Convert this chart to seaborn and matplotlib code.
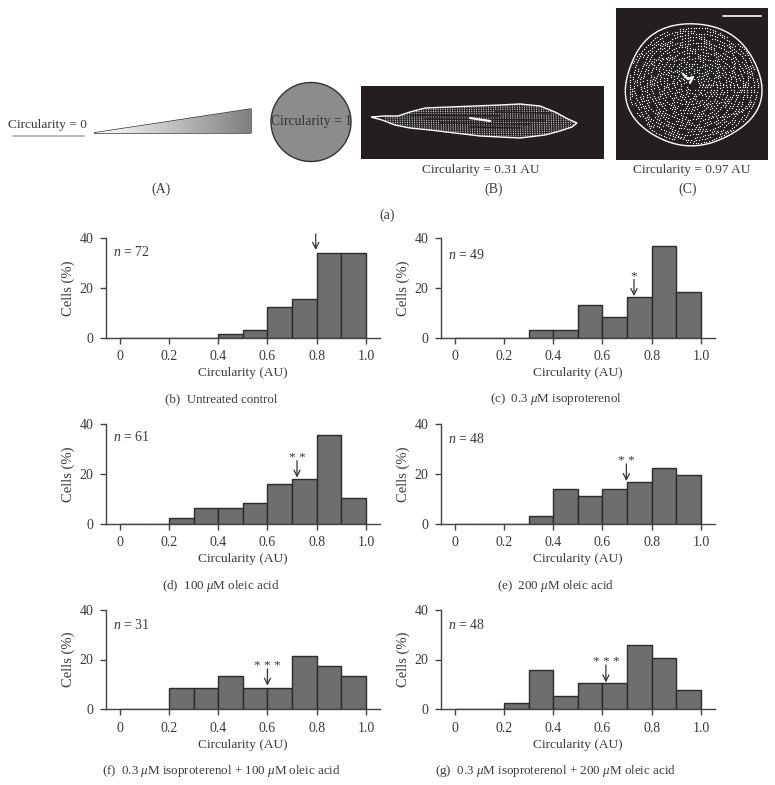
import numpy as np
import pandas as pd
import matplotlib
matplotlib.use("Agg")
import matplotlib.pyplot as plt
from matplotlib.patches import Ellipse, Polygon
import seaborn as sns

W, H = 775, 785

# Bin edges and panel values (% of cells per 0.1 circularity bin)
bin_edges = [0, 0.1, 0.2, 0.3, 0.4, 0.5, 0.6, 0.7, 0.8, 0.9, 1.0]
bin_left = [0, 0.1, 0.2, 0.3, 0.4, 0.5, 0.6, 0.7, 0.8, 0.9]
vals_b = [0, 0, 0, 0, 1.4, 2.9, 12.3, 15.4, 34, 34]
vals_c = [0, 0, 0, 2.9, 2.9, 13.3, 8.2, 16.2, 36.7, 18.4]
vals_d = [0, 0, 2.4, 6.2, 6.2, 8.2, 15.8, 18, 35.4, 10.2]
vals_e = [0, 0, 0, 2.9, 14, 11, 13.9, 16.7, 22.4, 19.4]
vals_f = [0, 0, 8.7, 8.7, 13.2, 8.7, 8.7, 21.6, 17.3, 13.2]
vals_g = [0, 0, 2.7, 15.6, 5.2, 10.4, 10.4, 26, 20.8, 7.8]

n_cells = [72, 49, 61, 48, 31, 48]
arrow_x = [0.796, 0.728, 0.72, 0.697, 0.6, 0.614]
arrow_tip = [35.2, 16.7, 18.5, 17.1, 9.5, 10.8]
arrow_top = [41.6, 23.4, 25.3, 24, 16.3, 17.8]
stars = ["", "*", "* *", "* *", "* * *", "* * *"]
captions = ["(b)  Untreated control",
            r"(c)  0.3 $\mu$M isoproterenol",
            r"(d)  100 $\mu$M oleic acid",
            r"(e)  200 $\mu$M oleic acid",
            r"(f)  0.3 $\mu$M isoproterenol + 100 $\mu$M oleic acid",
            r"(g)  0.3 $\mu$M isoproterenol + 200 $\mu$M oleic acid"]
all_vals = [vals_b, vals_c, vals_d, vals_e, vals_f, vals_g]

# Panel frames in pixels: left, right, y of 40, y of 0
frames = [(106, 380, 238, 337.7), (441, 715, 238, 337.7),
          (106, 380, 424, 523.7), (441, 715, 424, 523.7),
          (106, 380, 609.7, 709.3), (441, 715, 609.7, 709.3)]
n_y = [252, 255, 437, 439, 625, 625]
caption_y = [399, 399, 586, 586, 771, 771]

sns.set_style("ticks")
plt.rcParams['font.family'] = ['Liberation Serif', 'DejaVu Serif']
plt.rcParams['mathtext.fontset'] = 'custom'
plt.rcParams['mathtext.rm'] = 'Liberation Serif'
plt.rcParams['mathtext.it'] = 'Liberation Serif:italic'

ink = "#3a3a3a"
fig = plt.figure(figsize=(W / 100, H / 100), dpi=100)

# Full figure layer in pixel coordinates for schematic part and captions
top = fig.add_axes([0, 0, 1, 1])
top.set_xlim(0, W)
top.set_ylim(H, 0)
top.axis("off")

# (A) line, wedge and disc
top.text(47, 125, "Circularity = 0", ha="center", va="center", fontsize=9.6, color=ink)
top.plot([13, 84], [136, 136], color="#b8b8b8", lw=1.4)
wedge = Polygon([(94, 133), (251, 109), (251, 133)], closed=True, fc="none", ec="#333333", lw=1)
top.add_patch(wedge)
grad = top.imshow(np.linspace(1, 0.5, 200).reshape(1, -1), cmap="gray", vmin=0, vmax=1,
                  extent=(94, 251, 133, 109), aspect="auto", zorder=1)
grad.set_clip_path(wedge)
top.set_xlim(0, W)
top.set_ylim(H, 0)
top.add_patch(Ellipse((311, 122), 80, 79, fc="#8c8c8c", ec="#333333", lw=1))
top.text(311, 122, "Circularity = 1", ha="center", va="center", fontsize=9.8, color="#333333")

# (B) elongated cell
top.fill_between([361, 604], 86, 159, color="#231f20", lw=0)
outline_b = [(371, 117), (385, 116), (398, 116), (410, 112), (425, 108), (450, 107), (475, 106),
             (500, 105), (520, 104), (540, 106), (555, 112), (568, 119), (577, 123), (572, 127),
             (560, 131), (545, 135), (520, 138), (500, 137), (480, 136), (455, 133), (430, 130),
             (410, 128), (395, 125), (382, 120)]
cell_b = Polygon(outline_b, closed=True, fc="none", ec="white", lw=1)
top.add_patch(cell_b)
for x in np.arange(385, 575, 2.4):
    ln = top.plot([x, x + 1.5], [100, 142], color="white", lw=0.6, ls=(0, (1.2, 1)))[0]
    ln.set_clip_path(cell_b)
for y, x0, x1 in [(115, 410, 500), (119, 425, 545), (123, 440, 530), (127, 470, 520), (112, 495, 550)]:
    top.plot([x0, x1], [y, y + 1], color="#231f20", lw=1.1)
top.plot([470, 490], [118, 121], color="white", lw=1.6)

# (C) round cell, speckle on a polar grid with a wavy outline
top.fill_between([616, 768], 8, 160, color="#231f20", lw=0)
ang = np.linspace(0, 2 * np.pi, 240)
wave = 1 + 0.018 * np.sin(3 * ang + 0.6) + 0.012 * np.sin(5 * ang)
top.plot(693 + 68 * wave * np.cos(ang), 85 + 61 * wave * np.sin(ang), color="white", lw=1.0)
rings = np.arange(0.1, 0.97, 0.042)
for j, r in enumerate(rings):
    t = np.arange(0, 2 * np.pi, 2.6 / (65 * r))
    keep = np.sin(7 * t + 3.1 * j) + 0.7 * np.sin(19 * t + 1.7 * j) > -0.75
    rr = r + 0.012 * np.sin(9 * t + j)
    top.scatter(693 + 68 * rr[keep] * np.cos(t[keep]), 85 + 61 * rr[keep] * np.sin(t[keep]),
                s=0.9, color="white", lw=0)
top.plot([683, 688, 693, 690], [74, 79, 77, 83], color="white", lw=1.6)
top.plot([723, 761], [16, 16], color="white", lw=1.2)

top.text(481, 170, "Circularity = 0.31 AU", ha="center", va="center", fontsize=9.6, color=ink)
top.text(692, 170, "Circularity = 0.97 AU", ha="center", va="center", fontsize=9.6, color=ink)
top.text(161, 189, "(A)", ha="center", va="center", fontsize=10, color=ink)
top.text(494, 189, "(B)", ha="center", va="center", fontsize=10, color=ink)
top.text(688, 189, "(C)", ha="center", va="center", fontsize=10, color=ink)
top.text(387, 215, "(a)", ha="center", va="center", fontsize=10, color=ink)

# Histogram panels
for i, (left, right, y40, y0) in enumerate(frames):
    ax = fig.add_axes([left / W, 1 - y0 / H, (right - left) / W, (y0 - y40) / H])
    df = pd.DataFrame({"circ": bin_left, "pct": all_vals[i]})
    sns.histplot(data=df, x="circ", weights="pct", bins=bin_edges, ax=ax, color="#6e6e6e",
                 edgecolor="#2b2b2b", linewidth=1, alpha=1)
    ax.set_xlim(-0.0556, 1.057)
    ax.set_ylim(0, 40)
    ax.patch.set_alpha(0)
    ax.set_xticks([0, 0.2, 0.4, 0.6, 0.8, 1.0], ["0", "0.2", "0.4", "0.6", "0.8", "1.0"])
    ax.set_yticks([0, 20, 40])
    ax.tick_params(axis="both", length=4, width=1, color="#444444", labelcolor=ink, labelsize=10, pad=5)
    ax.set_xlabel("Circularity (AU)", fontsize=9.6, color=ink, labelpad=3)
    ax.set_ylabel("Cells (%)", fontsize=10.5, color=ink, labelpad=3)
    for s in ["top", "right"]:
        ax.spines[s].set_visible(False)
    for s in ["left", "bottom"]:
        ax.spines[s].set_color("#444444")
        ax.spines[s].set_linewidth(1)

    ax.annotate("", xy=(arrow_x[i], arrow_tip[i]), xytext=(arrow_x[i], arrow_top[i]),
                arrowprops=dict(arrowstyle="->", color="#333333", lw=0.9, shrinkA=0, shrinkB=0,
                                mutation_scale=11), annotation_clip=False)
    if stars[i]:
        ax.text(arrow_x[i], arrow_top[i] - 1.2, stars[i], ha="center", va="bottom", fontsize=9.5, color=ink)

    top.text(left + 7, n_y[i], r"$n$ = %d" % n_cells[i], ha="left", va="center", fontsize=10, color=ink)
    top.text((left + right) / 2 - 22, caption_y[i], captions[i], ha="center", va="center", fontsize=9.4, color=ink)

fig.savefig("out.png", dpi=100)
